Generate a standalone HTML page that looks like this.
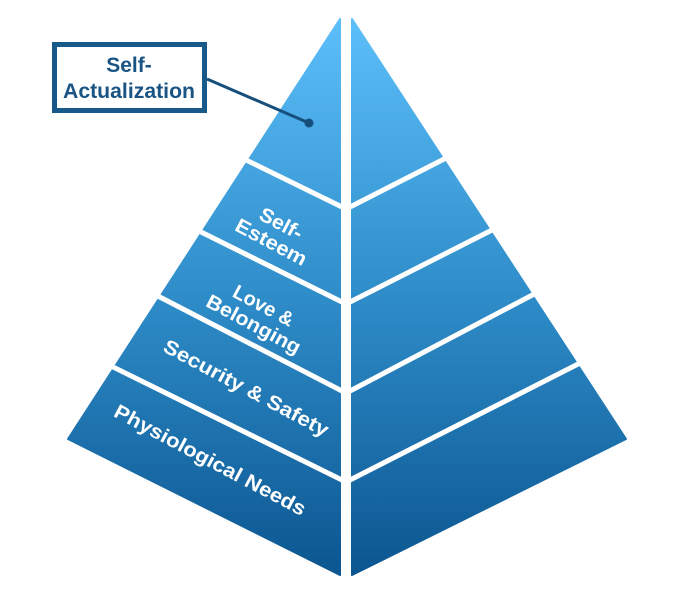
<!DOCTYPE html>
<html><head><meta charset="utf-8"><style>
html,body{margin:0;padding:0;background:#fff;width:700px;height:589px;overflow:hidden}
svg{display:block}
text{font-family:"Liberation Sans",Arial,sans-serif;font-weight:bold}
</style></head><body>
<svg width="700" height="589" viewBox="0 0 700 589">
<defs>
<linearGradient id="g" x1="0" y1="19" x2="0" y2="578" gradientUnits="userSpaceOnUse">
<stop offset="0" stop-color="#5cbffa"/>
<stop offset="0.5" stop-color="#2e8cc8"/>
<stop offset="1" stop-color="#0b5590"/>
</linearGradient>
</defs>
<polygon points="340,19 68,439 340,575" fill="url(#g)" stroke="url(#g)" stroke-width="2" stroke-linejoin="round"/>
<polygon points="352,19 626,439 352,575" fill="url(#g)" stroke="url(#g)" stroke-width="2" stroke-linejoin="round"/>
<g stroke="#fff" stroke-width="5">
<line x1="240" y1="157" x2="342" y2="207"/>
<line x1="195" y1="229" x2="342" y2="302"/>
<line x1="152" y1="293" x2="342" y2="391"/>
<line x1="105" y1="363" x2="342" y2="480"/>
<line x1="350" y1="207" x2="452" y2="155"/>
<line x1="350" y1="302" x2="498" y2="227"/>
<line x1="350" y1="391" x2="540" y2="291"/>
<line x1="350" y1="480" x2="586" y2="360"/>
</g>
<g fill="#fff" font-size="20" text-anchor="middle">
<g transform="translate(276,233) rotate(28)"><text x="0" y="-4" textLength="46" lengthAdjust="spacingAndGlyphs">Self-</text><text x="0" y="17" textLength="78" lengthAdjust="spacingAndGlyphs">Esteem</text></g>
<g transform="translate(258,316) rotate(28)"><text x="0" y="-5" textLength="66" lengthAdjust="spacingAndGlyphs">Love &amp;</text><text x="0" y="16" textLength="104" lengthAdjust="spacingAndGlyphs">Belonging</text></g>
<text transform="translate(243,394) rotate(28)" x="0" y="0" textLength="184" lengthAdjust="spacingAndGlyphs">Security &amp; Safety</text>
<text transform="translate(207,466) rotate(28)" x="0" y="0" textLength="214" lengthAdjust="spacingAndGlyphs">Physiological Needs</text>
</g>
<line x1="207" y1="79" x2="309" y2="123" stroke="#164f7c" stroke-width="3"/>
<circle cx="309" cy="123" r="4.5" fill="#164f7c"/>
<rect x="54.5" y="44.5" width="150" height="66" fill="#fff" stroke="#175a8a" stroke-width="5"/>
<g fill="#1a5484" font-size="21" text-anchor="middle">
<text x="129" y="72">Self-</text>
<text x="129" y="98" textLength="132" lengthAdjust="spacingAndGlyphs">Actualization</text>
</g>
</svg>
</body></html>
